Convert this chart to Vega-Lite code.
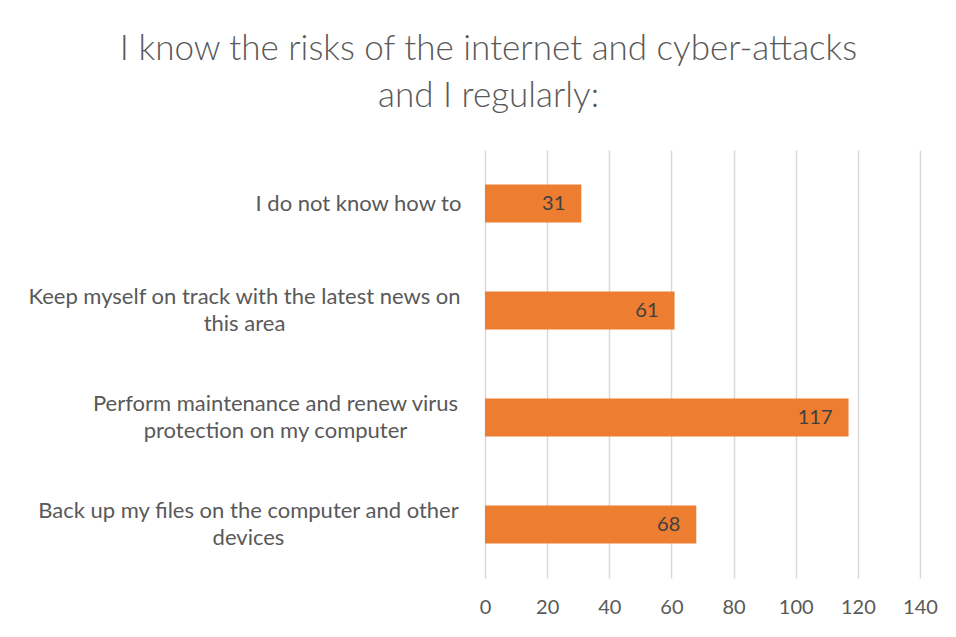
{
  "$schema": "https://vega.github.io/schema/vega-lite/v6.json",
  "width": 435,
  "height": 428,
  "autosize": {"type": "none"},
  "padding": {"left": 485, "top": 150, "right": 36, "bottom": 59},
  "background": "white",
  "title": {
    "text": ["I know the risks of the internet and cyber-attacks", "and I regularly:"],
    "font": "Lato",
    "fontSize": 35,
    "fontWeight": 300,
    "color": "#595959",
    "lineHeight": 47,
    "anchor": "middle",
    "dx": -214,
    "offset": 36
  },
  "data": {
    "values": [
      {"item": "I do not know how to", "count": 31},
      {"item": "Keep myself on track with the latest news on this area", "count": 61},
      {"item": "Perform maintenance and renew virus protection on my computer", "count": 117},
      {"item": "Back up my files on the computer and other devices", "count": 68}
    ]
  },
  "config": {
    "view": {"stroke": null},
    "font": "Lato"
  },
  "encoding": {
    "y": {
      "field": "item",
      "type": "nominal",
      "sort": null,
      "title": null,
      "scale": {"paddingInner": 0.645, "paddingOuter": 0.3225},
      "axis": {
        "domain": false,
        "ticks": false,
        "grid": false,
        "labelFont": "Lato",
        "labelFontSize": 22,
        "labelColor": "#595959",
        "labelAlign": "center",
        "labelBaseline": "middle",
        "labelLineHeight": 27,
        "labelLimit": 0,
        "labelOffset": {
          "condition": {"test": "datum.value == 'I do not know how to'", "value": 0},
          "value": -13.5
        },
        "labelPadding": {
          "condition": [
            {"test": "datum.value == 'I do not know how to'", "value": 127},
            {"test": "datum.value == 'Keep myself on track with the latest news on this area'", "value": 241},
            {"test": "datum.value == 'Perform maintenance and renew virus protection on my computer'", "value": 210}
          ],
          "value": 237
        },
        "labelExpr": "datum.value == 'Keep myself on track with the latest news on this area' ? ['Keep myself on track with the latest news on', 'this area'] : datum.value == 'Perform maintenance and renew virus protection on my computer' ? ['Perform maintenance and renew virus', 'protection on my computer'] : datum.value == 'Back up my files on the computer and other devices' ? ['Back up my files on the computer and other', 'devices'] : datum.value"
      }
    }
  },
  "layer": [
    {
      "mark": {"type": "bar", "color": "#ED7D31"},
      "encoding": {
        "x": {
          "field": "count",
          "type": "quantitative",
          "title": null,
          "scale": {"domain": [0, 140], "nice": false},
          "axis": {
            "values": [0, 20, 40, 60, 80, 100, 120, 140],
            "domain": false,
            "ticks": false,
            "grid": true,
            "gridColor": "#d9d9d9",
            "gridWidth": 1.5,
            "labelFlush": false,
            "labelFont": "Lato",
            "labelFontSize": 20,
            "labelColor": "#595959",
            "labelPadding": 19
          }
        }
      }
    },
    {
      "mark": {"type": "text", "align": "right", "baseline": "middle", "dx": -16, "font": "Lato", "fontSize": 20, "color": "#404040"},
      "encoding": {
        "x": {"field": "count", "type": "quantitative"},
        "text": {"field": "count", "type": "quantitative"}
      }
    }
  ]
}
